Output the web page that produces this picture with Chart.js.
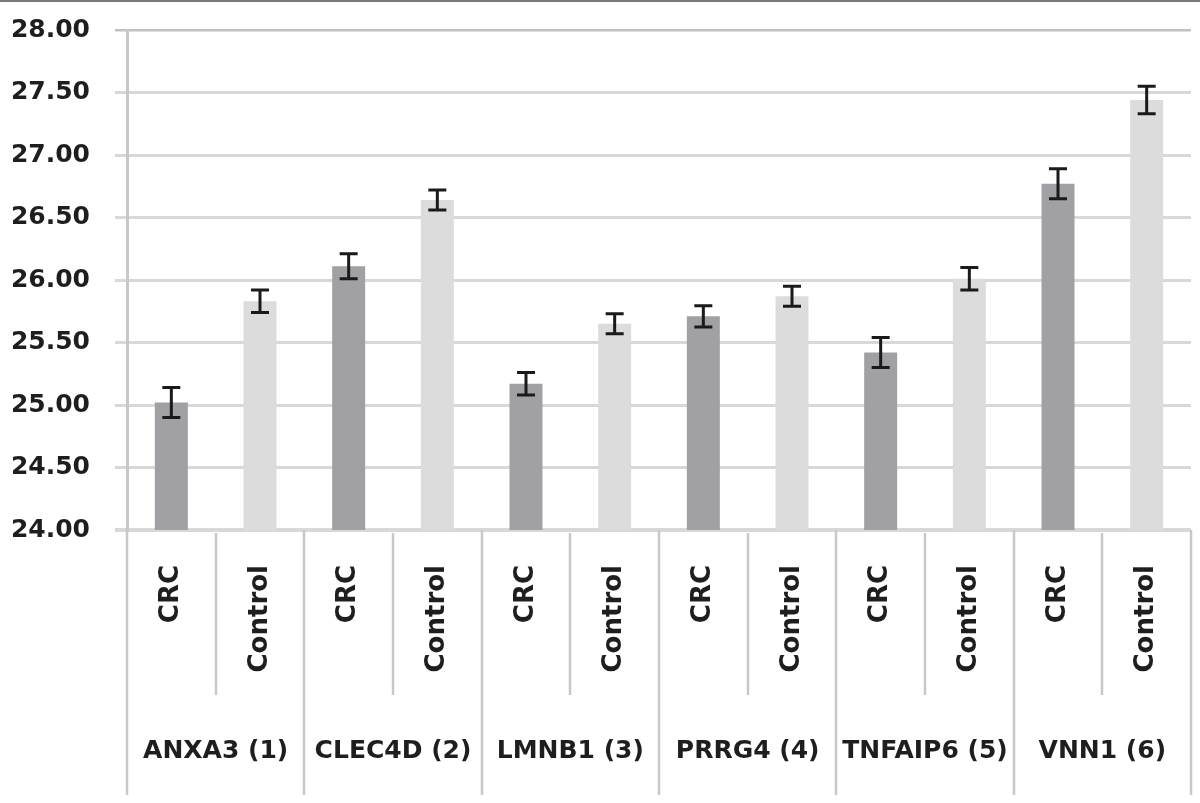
<!DOCTYPE html>
<html>
<head>
<meta charset="utf-8">
<script src="https://cdn.jsdelivr.net/npm/chart.js@4.4.1/dist/chart.umd.min.js"></script>
<style>
  html, body { margin: 0; padding: 0; background: #ffffff; }
  #wrap { width: 1200px; height: 803px; position: relative; }
</style>
</head>
<body>
<div id="wrap"><canvas id="c" width="1200" height="803"></canvas></div>
<script>
// ---- data ----
const genes = ['ANXA3 (1)', 'CLEC4D (2)', 'LMNB1 (3)', 'PRRG4 (4)', 'TNFAIP6 (5)', 'VNN1 (6)'];
const groupNames = ['CRC', 'Control'];
const crcMean = [25.02, 26.11, 25.17, 25.71, 25.42, 26.77];
const crcErr = [0.12, 0.10, 0.09, 0.085, 0.12, 0.12];
const controlMean = [25.83, 26.64, 25.65, 25.87, 26.01, 27.44];
const controlErr = [0.09, 0.08, 0.08, 0.08, 0.09, 0.11];
const yMin = 24, yMax = 28, yStep = 0.5;

// build interleaved category table from the arrays
const subLabels = [], values = [], errors = [], kinds = [];
genes.forEach((g, i) => {
  subLabels.push(groupNames[0]); values.push(crcMean[i]); errors.push(crcErr[i]); kinds.push(0);
  subLabels.push(groupNames[1]); values.push(controlMean[i]); errors.push(controlErr[i]); kinds.push(1);
});

const FONT = "'DejaVu Sans', sans-serif";
const TEXT = '#1e1e1e';
const barColors = ['#a0a0a5', '#dcdcdc'];

const bgPlugin = {
  id: 'bg',
  beforeDraw(chart) {
    const ctx = chart.ctx;
    ctx.save();
    ctx.fillStyle = '#ffffff';
    ctx.fillRect(0, 0, chart.width, chart.height);
    ctx.fillStyle = '#7a7a7a';
    ctx.fillRect(0, 0, chart.width, 2);
    ctx.restore();
  }
};

const separatorPlugin = {
  id: 'separators',
  afterDraw(chart) {
    const xs = chart.scales.x, x2 = chart.scales.x2;
    const ctx = chart.ctx;
    const n = subLabels.length;
    const w = (xs.right - xs.left) / n;
    ctx.save();
    ctx.strokeStyle = '#c8c8c8';
    ctx.lineWidth = 2.5;
    for (let i = 0; i <= n; i++) {
      const x = Math.round(xs.left + i * w);
      const long = i % 2 === 0;
      ctx.beginPath();
      ctx.moveTo(x, xs.top + (long ? 0 : 3));
      ctx.lineTo(x, long ? x2.bottom : xs.bottom);
      ctx.stroke();
    }
    ctx.restore();
  }
};

const errorBarPlugin = {
  id: 'errorBars',
  afterDatasetsDraw(chart) {
    const meta = chart.getDatasetMeta(0);
    const y = chart.scales.y;
    const ctx = chart.ctx;
    ctx.save();
    ctx.strokeStyle = '#1a1a1a';
    ctx.lineWidth = 3;
    meta.data.forEach((bar, i) => {
      const x = bar.x;
      const top = y.getPixelForValue(values[i] + errors[i]);
      const bot = y.getPixelForValue(values[i] - errors[i]);
      ctx.beginPath();
      ctx.moveTo(x, top); ctx.lineTo(x, bot);
      ctx.moveTo(x - 9, top); ctx.lineTo(x + 9, top);
      ctx.moveTo(x - 9, bot); ctx.lineTo(x + 9, bot);
      ctx.stroke();
    });
    ctx.restore();
  }
};

new Chart(document.getElementById('c'), {
  type: 'bar',
  data: {
    labels: subLabels,
    datasets: [{
      data: values,
      backgroundColor: kinds.map(k => barColors[k]),
      borderWidth: 0,
      barPercentage: 0.372,
      categoryPercentage: 1.0
    }]
  },
  options: {
    responsive: false,
    animation: false,
    devicePixelRatio: 1,
    layout: { padding: { top: 30, bottom: 8, left: 0, right: 9 } },
    plugins: { legend: { display: false }, tooltip: { enabled: false } },
    scales: {
      y: {
        min: yMin, max: yMax,
        afterFit(s) { s.width = 127; s.paddingTop = 0; s.paddingBottom = 0; },
        ticks: {
          stepSize: yStep,
          padding: 25,
          color: TEXT,
          font: { family: FONT, size: 25, weight: 'bold' },
          callback: v => Number(v).toFixed(2)
        },
        grid: {
          drawTicks: true,
          tickLength: 12,
          color: ctx => ctx.tick && ctx.tick.value === yMax ? '#c2c2c2' : '#d8d8d8',
          lineWidth: ctx => ctx.tick && ctx.tick.value === yMin ? 4 : (ctx.tick && ctx.tick.value === yMax ? 2.5 : 3)
        },
        border: { display: true, color: '#c8c8c8', width: 3 }
      },
      x: {
        position: 'bottom',
        weight: 0,
        offset: true,
        afterFit(s) { s.height = 165; s.paddingLeft = 0; s.paddingRight = 0; },
        ticks: {
          autoSkip: false,
          minRotation: 90,
          maxRotation: 90,
          padding: 35,
          color: TEXT,
          font: { family: FONT, size: 26, weight: 'bold' }
        },
        grid: { display: false, drawTicks: false },
        border: { display: false }
      },
      x2: {
        type: 'category',
        labels: genes,
        position: 'bottom',
        weight: 1,
        offset: true,
        afterFit(s) { s.height = 100; s.paddingLeft = 0; s.paddingRight = 0; },
        ticks: {
          autoSkip: false,
          maxRotation: 0,
          minRotation: 0,
          padding: 41,
          color: TEXT,
          font: { family: FONT, size: 25, weight: 'bold' }
        },
        grid: { display: false, drawTicks: false },
        border: { display: false }
      }
    }
  },
  plugins: [bgPlugin, errorBarPlugin, separatorPlugin]
});
</script>
</body>
</html>
